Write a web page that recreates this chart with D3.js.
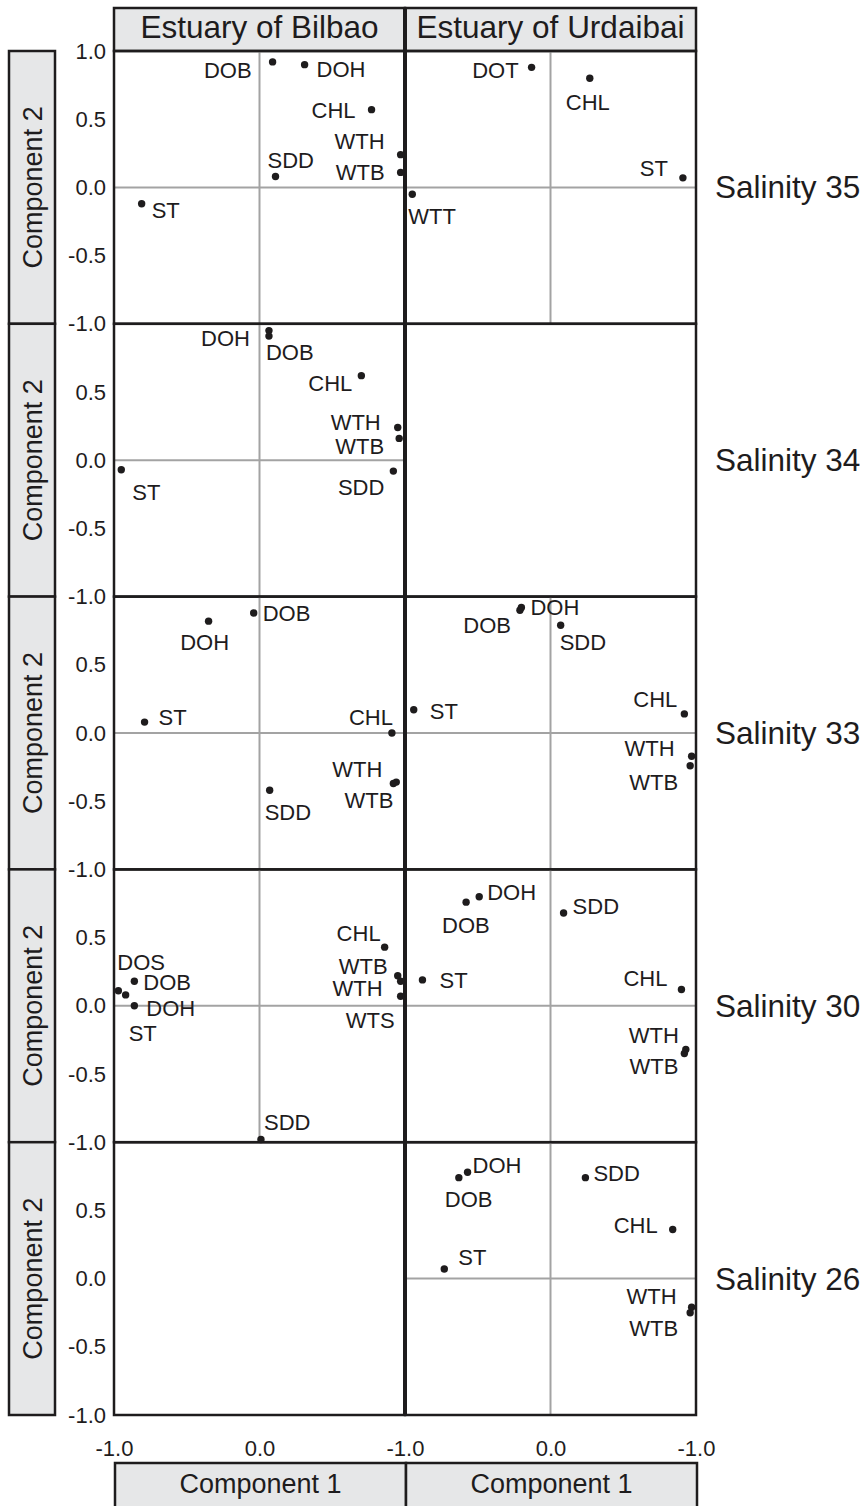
<!DOCTYPE html>
<html>
<head>
<meta charset="utf-8">
<script src="https://cdn.jsdelivr.net/npm/d3@7"></script>
<style>
  body { margin: 0; background: #fff; }
  text { font-family: "Liberation Sans", Arial, sans-serif; fill: #1e1c1d; }
</style>
</head>
<body>
<div id="chart"></div>
<script>
const estuaries = ["Estuary of Bilbao", "Estuary of Urdaibai"];
const salinity = [35, 34, 33, 30, 26];
const yTickValues = [1, 0.5, 0, -0.5, -1];
const xTickValues = [-1, 0, 1];
const xTickLabels = ["-1.0", "0.0", "-1.0"];
const axisTitleX = "Component 1";
const axisTitleY = "Component 2";

// loadings [variable, component 1, component 2], one array per estuary and salinity
const bilbao35 = [["DOB", 0.09, 0.92], ["DOH", 0.31, 0.90], ["CHL", 0.77, 0.57], ["WTH", 0.97, 0.24],
  ["WTB", 0.97, 0.11], ["SDD", 0.11, 0.08], ["ST", -0.81, -0.12]];
const urdaibai35 = [["DOT", -0.13, 0.88], ["CHL", 0.27, 0.80], ["ST", 0.91, 0.07], ["WTT", -0.95, -0.05]];
const bilbao34 = [["DOH", 0.065, 0.95], ["DOB", 0.065, 0.91], ["CHL", 0.70, 0.62], ["WTH", 0.95, 0.24],
  ["WTB", 0.96, 0.16], ["SDD", 0.92, -0.08], ["ST", -0.95, -0.07]];
const urdaibai34 = [];
const bilbao33 = [["DOB", -0.04, 0.88], ["DOH", -0.35, 0.82], ["ST", -0.79, 0.08], ["CHL", 0.91, 0.0],
  ["WTH", 0.94, -0.36], ["WTB", 0.92, -0.37], ["SDD", 0.07, -0.42]];
const urdaibai33 = [["DOH", -0.20, 0.92], ["DOB", -0.21, 0.90], ["SDD", 0.07, 0.79], ["ST", -0.94, 0.17],
  ["CHL", 0.92, 0.14], ["WTH", 0.97, -0.17], ["WTB", 0.96, -0.24]];
const bilbao30 = [["DOS", -0.97, 0.11], ["ST", -0.92, 0.08], ["DOB", -0.86, 0.18], ["DOH", -0.86, 0.0],
  ["CHL", 0.86, 0.43], ["WTB", 0.95, 0.22], ["WTH", 0.97, 0.18], ["WTS", 0.97, 0.07], ["SDD", 0.01, -0.98]];
const urdaibai30 = [["DOB", -0.58, 0.76], ["DOH", -0.49, 0.80], ["SDD", 0.09, 0.68], ["ST", -0.88, 0.19],
  ["CHL", 0.90, 0.12], ["WTH", 0.93, -0.32], ["WTB", 0.92, -0.35]];
const bilbao26 = [];
const urdaibai26 = [["DOB", -0.63, 0.74], ["DOH", -0.57, 0.78], ["SDD", 0.24, 0.74], ["CHL", 0.84, 0.36],
  ["ST", -0.73, 0.07], ["WTH", 0.97, -0.21], ["WTB", 0.96, -0.25]];

const loadings = [
  [bilbao35, bilbao34, bilbao33, bilbao30, bilbao26],
  [urdaibai35, urdaibai34, urdaibai33, urdaibai30, urdaibai26]
];

// label placement next to each dot: [dx, dy, anchor], same order as the data
const labelPlace = [
  [
    [[-21, 8, "end"], [12, 4, "start"], [-16, 0, "end"], [-16, -14, "end"], [-16, 0, "end"], [-8, -16, "start"], [10, 6, "start"]],
    [[-19, 7, "end"], [-3, 16, "start"], [-9, 7, "end"], [-17, -5, "end"], [-15, 8, "end"], [-9, 16, "end"], [11, 22, "start"]],
    [[9, 0, "start"], [-4, 21, "middle"], [14, -5, "start"], [1, -16, "end"], [-14, -13, "end"], [0, 17, "end"], [-5, 22, "start"]],
    [[-1, -29, "start"], [3, 38, "start"], [9, 1, "start"], [12, 2, "start"], [-4, -14, "end"], [-10, -10, "end"], [-18, 7, "end"], [-6, 24, "end"], [3, -17, "start"]],
    []
  ],
  [
    [[-13, 3, "end"], [-2, 24, "middle"], [-15, -10, "end"], [-4, 22, "start"]],
    [],
    [[9, 0, "start"], [-9, 15, "end"], [-1, 17, "start"], [16, 1, "start"], [-7, -15, "end"], [-17, -8, "end"], [-12, 16, "end"]],
    [[-24, 23, "start"], [8, -5, "start"], [9, -7, "start"], [17, 0, "start"], [-14, -11, "end"], [-7, -14, "end"], [-6, 13, "end"]],
    [[-14, 21, "start"], [5, -7, "start"], [8, -5, "start"], [-15, -4, "end"], [14, -12, "start"], [-15, -11, "end"], [-12, 15, "end"]]
  ]
];

const width = 864, height = 1506;
const colLeft = [114, 405], colW = 291;
const rowTop = 51, rowH = 272.8;
const boxFill = "#e6e7e8";
const gridGray = "#a3a3a3";
const ink = "#1e1c1d";

const svg = d3.select("#chart").append("svg")
  .attr("width", width)
  .attr("height", height);

const xScales = colLeft.map(l => d3.scaleLinear().domain([-1, 1]).range([l, l + colW]));
const yScales = salinity.map((s, r) => d3.scaleLinear().domain([-1, 1]).range([rowTop + (r + 1) * rowH, rowTop + r * rowH]));

// header boxes
estuaries.forEach((name, c) => {
  svg.append("rect")
    .attr("x", colLeft[c]).attr("y", 8)
    .attr("width", colW).attr("height", rowTop - 8)
    .attr("fill", boxFill).attr("stroke", ink).attr("stroke-width", 2.5);
  svg.append("text")
    .attr("x", colLeft[c] + colW / 2).attr("y", 38)
    .attr("text-anchor", "middle")
    .attr("font-size", "31.5px")
    .text(name);
});

// bottom boxes
estuaries.forEach((name, c) => {
  svg.append("rect")
    .attr("x", colLeft[c] + 1).attr("y", 1463)
    .attr("width", colW).attr("height", 60)
    .attr("fill", boxFill).attr("stroke", ink).attr("stroke-width", 2.5);
  svg.append("text")
    .attr("x", colLeft[c] + colW / 2 + 1).attr("y", 1493)
    .attr("text-anchor", "middle")
    .attr("font-size", "27px")
    .text(axisTitleX);
});

salinity.forEach((s, r) => {
  const y = yScales[r];
  const top = y(1), bottom = y(-1);

  // left side box
  svg.append("rect")
    .attr("x", 9).attr("y", top)
    .attr("width", 46).attr("height", bottom - top)
    .attr("fill", boxFill).attr("stroke", ink).attr("stroke-width", 2.5);
  svg.append("text")
    .attr("transform", `translate(42,${(top + bottom) / 2}) rotate(-90)`)
    .attr("text-anchor", "middle")
    .attr("font-size", "27px")
    .text(axisTitleY);

  // right side label
  svg.append("text")
    .attr("x", 715).attr("y", y(0) + 11)
    .attr("font-size", "31.5px")
    .text(`Salinity ${s}`);

  // y axis
  svg.append("g")
    .attr("transform", `translate(${colLeft[0]},0)`)
    .call(d3.axisLeft(y)
      .tickValues(r === 0 ? yTickValues : yTickValues.slice(1))
      .tickSize(0).tickPadding(8)
      .tickFormat(d => d.toFixed(1)))
    .call(g => g.select(".domain").remove())
    .call(g => g.selectAll("text").attr("font-size", "22px").attr("font-family", "Liberation Sans, Arial, sans-serif").attr("fill", ink));

  estuaries.forEach((e, c) => {
    const x = xScales[c];
    const pts = loadings[c][r];
    const g = svg.append("g");

    if (pts.length) {
      g.append("line")
        .attr("x1", x(-1)).attr("x2", x(1))
        .attr("y1", y(0)).attr("y2", y(0))
        .attr("stroke", gridGray).attr("stroke-width", 2);
      g.append("line")
        .attr("x1", x(0)).attr("x2", x(0))
        .attr("y1", y(1)).attr("y2", y(-1))
        .attr("stroke", gridGray).attr("stroke-width", 2);
    }

    g.append("rect")
      .attr("x", x(-1)).attr("y", y(1))
      .attr("width", x(1) - x(-1)).attr("height", y(-1) - y(1))
      .attr("fill", "none").attr("stroke", ink).attr("stroke-width", 2.5);
  });
});

// thick divider between estuaries
svg.append("line")
  .attr("x1", colLeft[1]).attr("x2", colLeft[1])
  .attr("y1", 8).attr("y2", yScales[4](-1))
  .attr("stroke", ink).attr("stroke-width", 4);

// x axes
estuaries.forEach((e, c) => {
  svg.append("g")
    .attr("transform", `translate(0,${yScales[4](-1)})`)
    .call(d3.axisBottom(xScales[c])
      .tickValues(c === 0 ? xTickValues : xTickValues.slice(1))
      .tickSize(0).tickPadding(25)
      .tickFormat(d => xTickLabels[xTickValues.indexOf(d)]))
    .call(g => g.select(".domain").remove())
    .call(g => g.selectAll("text").attr("font-size", "22px").attr("font-family", "Liberation Sans, Arial, sans-serif").attr("fill", ink));
});

// dots and labels
salinity.forEach((s, r) => {
  estuaries.forEach((e, c) => {
    const x = xScales[c], y = yScales[r];
    const pts = loadings[c][r];
    const place = labelPlace[c][r];
    const g = svg.append("g");

    g.selectAll("circle")
      .data(pts)
      .enter()
      .append("circle")
      .attr("cx", d => x(d[1]))
      .attr("cy", d => y(d[2]))
      .attr("r", 3.7)
      .attr("fill", ink);

    g.selectAll("text")
      .data(pts)
      .enter()
      .append("text")
      .attr("x", (d, i) => x(d[1]) + place[i][0])
      .attr("y", (d, i) => y(d[2]) + place[i][1])
      .attr("dy", "0.36em")
      .attr("text-anchor", (d, i) => place[i][2])
      .attr("font-size", "22px")
      .text(d => d[0]);
  });
});
</script>
</body>
</html>
